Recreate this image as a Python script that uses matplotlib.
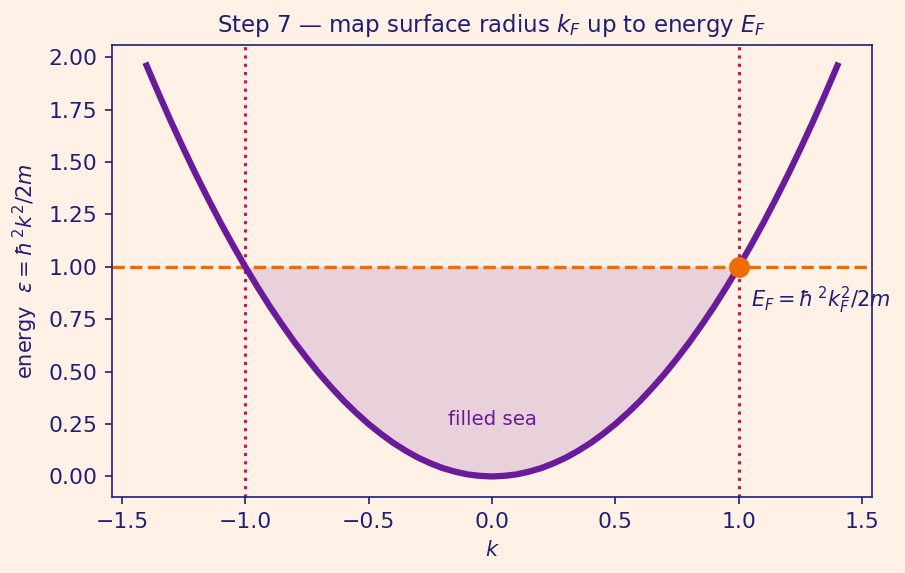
import matplotlib
matplotlib.use("Agg")
import matplotlib.pyplot as plt
import numpy as np

# data
k_vals = [-1.40, -1.35, -1.30, -1.25, -1.20, -1.15, -1.10, -1.05, -1.00, -0.95, -0.90, -0.85,
          -0.80, -0.75, -0.70, -0.65, -0.60, -0.55, -0.50, -0.45, -0.40, -0.35, -0.30, -0.25,
          -0.20, -0.15, -0.10, -0.05, 0.00, 0.05, 0.10, 0.15, 0.20, 0.25, 0.30, 0.35, 0.40,
          0.45, 0.50, 0.55, 0.60, 0.65, 0.70, 0.75, 0.80, 0.85, 0.90, 0.95, 1.00, 1.05, 1.10,
          1.15, 1.20, 1.25, 1.30, 1.35, 1.40]
energy_vals = [1.960, 1.823, 1.690, 1.563, 1.440, 1.323, 1.210, 1.103, 1.000, 0.903, 0.810, 0.723,
               0.640, 0.563, 0.490, 0.423, 0.360, 0.303, 0.250, 0.203, 0.160, 0.123, 0.090, 0.063,
               0.040, 0.023, 0.010, 0.003, 0.000, 0.003, 0.010, 0.023, 0.040, 0.063, 0.090, 0.123,
               0.160, 0.203, 0.250, 0.303, 0.360, 0.423, 0.490, 0.563, 0.640, 0.723, 0.810, 0.903,
               1.000, 1.103, 1.210, 1.323, 1.440, 1.563, 1.690, 1.823, 1.960]
k_fermi = 1.0
e_fermi = 1.0

bg = "#fff1e6"
navy = "#1f1f75"
purple = "#6a1b9a"
orange = "#ef6c00"
red = "#c2185b"

fig = plt.figure(figsize=(905/150, 573/150), dpi=150, facecolor=bg)
ax = fig.add_axes([0.1238, 0.1326, 0.8397, 0.7889], facecolor=bg)

k = np.array(k_vals)
e = np.array(energy_vals)
mask = np.abs(k) <= k_fermi + 1e-9
ax.fill_between(k[mask], e[mask], e_fermi, color=purple, alpha=0.15, linewidth=0)
ax.plot(k, e, color=purple, lw=3.0, zorder=3, solid_joinstyle="round")
ax.axhline(e_fermi, color=orange, ls="--", lw=1.6, zorder=2)
ax.axvline(-k_fermi, color=red, ls=":", lw=1.5, zorder=2)
ax.axvline(k_fermi, color=red, ls=":", lw=1.5, zorder=2)
ax.plot([k_fermi], [e_fermi], "o", color=orange, ms=9, zorder=4)

ax.text(k_fermi + 0.05, 0.765, r"$E_F = \hbar^{\,2} k_F^2/2m$", color=navy, fontsize=10, va="bottom")
ax.text(0.0, 0.226, "filled sea", color=purple, fontsize=9.5, ha="center", va="bottom")

ax.set_title(r"Step 7 — map surface radius $k_F$ up to energy $E_F$", color=navy, fontsize=11)
ax.set_xlabel(r"$k$", color=navy, fontsize=10)
ax.set_ylabel(r"energy  $\varepsilon = \hbar^{\,2}k^2/2m$", color=navy, fontsize=10)
ax.set_xticks([-1.5, -1.0, -0.5, 0.0, 0.5, 1.0, 1.5])
ax.set_yticks([0.0, 0.25, 0.5, 0.75, 1.0, 1.25, 1.5, 1.75, 2.0])
ax.yaxis.set_major_formatter(matplotlib.ticker.FormatStrFormatter("%.2f"))
ax.tick_params(colors=navy, labelsize=10.5)
for s in ax.spines.values():
    s.set_color(navy)

fig.savefig("out.png", dpi=150, facecolor=bg)
